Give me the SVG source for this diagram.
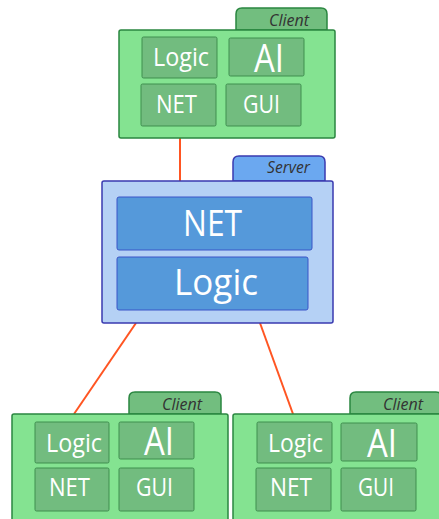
<svg xmlns="http://www.w3.org/2000/svg" width="439" height="519" viewBox="0 0 439 519">
<style>
.cm{fill:#84E391;stroke:#2A8640;stroke-width:1.5}
.ct{fill:#72BE7F;stroke:#2A8640;stroke-width:1.5}
.ci{fill:#72BC7F;stroke:#3F8F4F;stroke-width:1}
.sm{fill:#B5D1F5;stroke:#3A3AB0;stroke-width:1.5}
.st{fill:#6BA8F0;stroke:#3A3AB0;stroke-width:1.5}
.si{fill:#5599DA;stroke:#3A55C8;stroke-width:1}
.lbl{font-family:"Open Sans","DejaVu Sans",sans-serif;fill:#FFFFFF;text-anchor:middle}
.tab{font-family:"Open Sans","DejaVu Sans",sans-serif;font-style:italic;font-size:15.5px;fill:#333333;text-anchor:middle}
.conn{stroke:#FF5522;stroke-width:2;fill:none}
</style>
<g id="connectors">
<line class="conn" x1="180" y1="138" x2="180" y2="181"/>
<line class="conn" x1="136" y1="323" x2="74" y2="414"/>
<line class="conn" x1="260" y1="323" x2="293" y2="414"/>
</g>
<g id="client-top">
<path class="ct" d="M236,30 V14 Q236,8 242,8 H321 Q327,8 327,14 V30 Z"/>
<rect class="cm" x="119" y="30" width="216" height="108" rx="2"/>
<text class="tab" x="289" y="26" textLength="40" lengthAdjust="spacingAndGlyphs">Client</text>
<rect class="ci" x="142" y="37" width="75" height="41" rx="1.5"/>
<text class="lbl" x="181" y="66" font-size="26" textLength="56" lengthAdjust="spacingAndGlyphs">Logic</text>
<rect class="ci" x="229" y="38" width="75" height="38" rx="1.5"/>
<text class="lbl" x="269" y="72" font-size="39" textLength="30" lengthAdjust="spacingAndGlyphs">AI</text>
<rect class="ci" x="141" y="84" width="75" height="42" rx="1.5"/>
<text class="lbl" x="176.5" y="113" font-size="26" textLength="41" lengthAdjust="spacingAndGlyphs">NET</text>
<rect class="ci" x="226" y="84" width="75" height="42" rx="1.5"/>
<text class="lbl" x="261.5" y="113" font-size="26" textLength="37" lengthAdjust="spacingAndGlyphs">GUI</text>
</g>
<g id="server">
<path class="st" d="M233,181 V162 Q233,156 239,156 H319 Q325,156 325,162 V181 Z"/>
<rect class="sm" x="102" y="181" width="231" height="142" rx="2"/>
<text class="tab" x="288.5" y="172.5" textLength="43" lengthAdjust="spacingAndGlyphs">Server</text>
<rect class="si" x="117" y="197" width="195" height="53" rx="2"/>
<text class="lbl" x="212.5" y="236" font-size="36" textLength="59" lengthAdjust="spacingAndGlyphs">NET</text>
<rect class="si" x="117" y="257" width="191" height="53" rx="2"/>
<text class="lbl" x="216" y="295" font-size="36" textLength="84" lengthAdjust="spacingAndGlyphs">Logic</text>
</g>
<g id="client-left">
<path class="ct" d="M129,414 V398 Q129,392 135,392 H215 Q221,392 221,398 V414 Z"/>
<rect class="cm" x="12" y="414" width="216" height="116" rx="2"/>
<text class="tab" x="182" y="409.5" textLength="40" lengthAdjust="spacingAndGlyphs">Client</text>
<rect class="ci" x="35" y="422" width="74" height="41" rx="1.5"/>
<text class="lbl" x="74" y="452" font-size="26" textLength="56" lengthAdjust="spacingAndGlyphs">Logic</text>
<rect class="ci" x="119" y="422" width="75" height="37" rx="1.5"/>
<text class="lbl" x="159" y="455" font-size="39" textLength="30" lengthAdjust="spacingAndGlyphs">AI</text>
<rect class="ci" x="35" y="468" width="74" height="43" rx="1.5"/>
<text class="lbl" x="69.5" y="496" font-size="26" textLength="41" lengthAdjust="spacingAndGlyphs">NET</text>
<rect class="ci" x="119" y="468" width="75" height="43" rx="1.5"/>
<text class="lbl" x="154.5" y="496" font-size="26" textLength="37" lengthAdjust="spacingAndGlyphs">GUI</text>
</g>
<g id="client-right">
<path class="ct" d="M350,414 V398 Q350,392 356,392 H436 Q442,392 442,398 V414 Z"/>
<rect class="cm" x="233" y="414" width="216" height="116" rx="2"/>
<text class="tab" x="403" y="409.5" textLength="40" lengthAdjust="spacingAndGlyphs">Client</text>
<rect class="ci" x="257" y="422" width="75" height="41" rx="1.5"/>
<text class="lbl" x="295.5" y="452" font-size="26" textLength="55" lengthAdjust="spacingAndGlyphs">Logic</text>
<rect class="ci" x="341" y="423" width="76" height="38" rx="1.5"/>
<text class="lbl" x="382" y="457" font-size="39" textLength="30" lengthAdjust="spacingAndGlyphs">AI</text>
<rect class="ci" x="256" y="468" width="75" height="43" rx="1.5"/>
<text class="lbl" x="291" y="496" font-size="26" textLength="42" lengthAdjust="spacingAndGlyphs">NET</text>
<rect class="ci" x="341" y="468" width="75" height="43" rx="1.5"/>
<text class="lbl" x="376" y="496" font-size="26" textLength="36" lengthAdjust="spacingAndGlyphs">GUI</text>
</g>
</svg>
